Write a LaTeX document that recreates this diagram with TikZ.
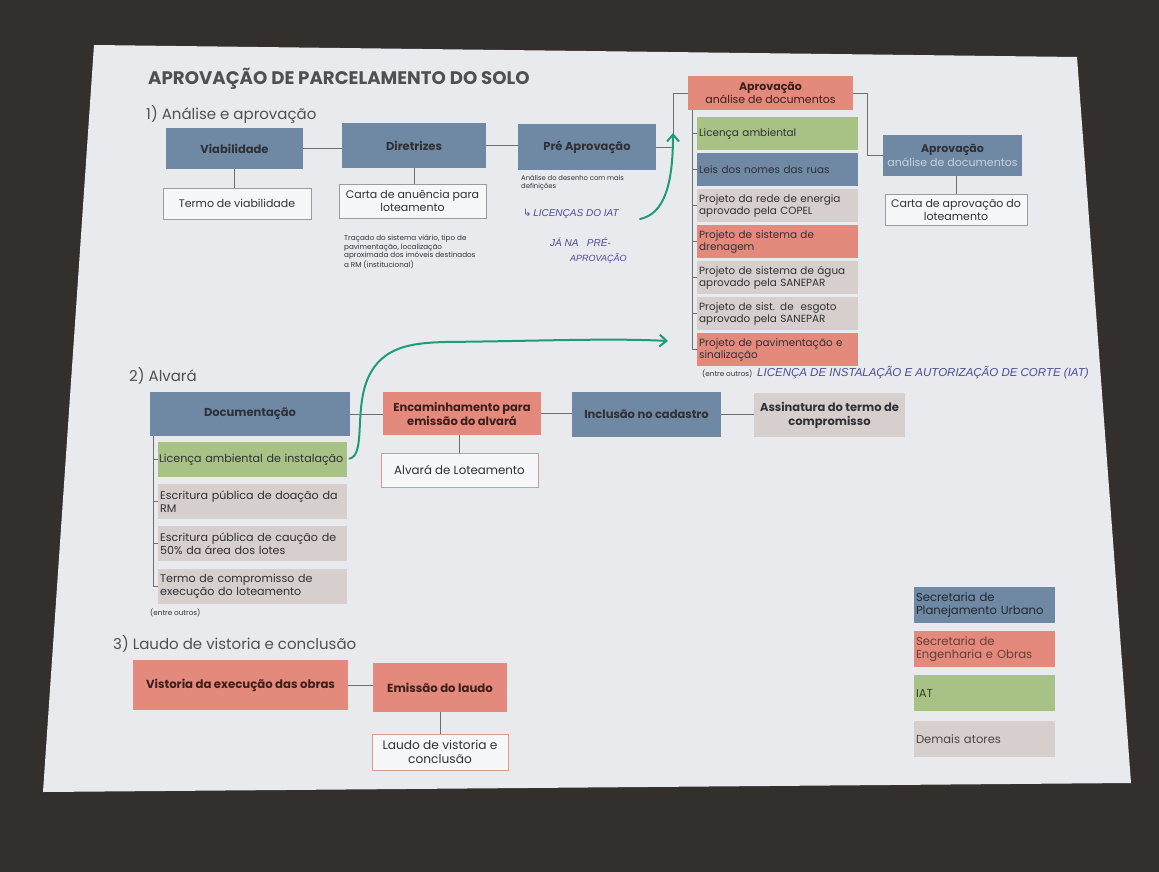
\documentclass[tikz,border=0pt]{standalone}
\usepackage{fontspec}
\setmainfont{Poppins}
\newfontfamily\handfont{Liberation Sans}
\newfontfamily\symfont{DejaVu Sans}
\usetikzlibrary{arrows.meta,calc}

\definecolor{stone}{HTML}{322F2C}
\definecolor{paper}{HTML}{E9EAEE}
\definecolor{planblue}{HTML}{6F88A3}
\definecolor{engred}{HTML}{E38A7D}
\definecolor{iatgreen}{HTML}{A7C284}
\definecolor{othergrey}{HTML}{D7CECE}
\definecolor{ink}{HTML}{2F3136}
\definecolor{redink}{HTML}{3E1E1A}
\definecolor{paleblue}{HTML}{C8D1DD}
\definecolor{wire}{HTML}{6E6E6E}
\definecolor{pen}{HTML}{474C97}
\definecolor{marker}{HTML}{1E9C78}
\definecolor{greyedge}{HTML}{9C9C9C}
\definecolor{redge}{HTML}{D49C91}

\newcommand{\fsz}[2]{\fontsize{#1}{#2}\selectfont}

\begin{document}
\begin{tikzpicture}[x=1pt,y=-1pt,
  stage/.style={rectangle, inner sep=2pt, align=center, text=ink,
    font=\fsz{11.5}{14}\bfseries},
  item/.style={rectangle, inner xsep=2pt, inner ysep=1pt, align=left,
    text=ink, text width=#1},
  item/.default=150pt,
  upper/.style={font=\fsz{10.4}{12}},
  lower/.style={font=\fsz{11.1}{13}},
  result/.style={rectangle, draw=greyedge, line width=0.7pt, fill=white!60!paper,
    align=center, text=ink, font=\fsz{11}{13}},
  link/.style={draw=wire, line width=0.8pt},
  note/.style={align=left, text=ink, font=\fsz{7.2}{8.4}, inner sep=0pt},
  heading/.style={anchor=base west, inner sep=0pt, text=ink!85!white},
  hand/.style={anchor=west, inner sep=0pt, text=pen,
    font=\handfont\itshape\fsz{10}{11}},
  greenpen/.style={draw=marker, line width=2pt, line cap=round},
  legend/.style={rectangle, minimum width=141pt, minimum height=36pt,
    inner xsep=2pt, align=left, text width=137pt, font=\fsz{11.6}{13.5}}
]
% table and sheet
\fill[stone] (0,0) rectangle (1159,872);
\useasboundingbox (0,0) rectangle (1159,872);
\fill[paper] (94,45) -- (1077,57) -- (1131,783) -- (43,792) -- cycle;

% titles
\node[heading, font=\fsz{18.2}{22}\bfseries] (title) at (148,85)
  {APROVAÇÃO DE PARCELAMENTO DO SOLO};
\node[heading, font=\fsz{15}{18}] (h1) at (146,120) {1) Análise e aprovação};
\node[heading, font=\fsz{15}{18}] (h2) at (129,381) {2) Alvará};
\node[heading, font=\fsz{15}{18}] (h3) at (113,649) {3) Laudo de vistoria e conclusão};

% ---------- 1) Análise e aprovação
\node[stage, fill=planblue, minimum width=137pt, minimum height=41pt] (viab) at (234.5,148.5) {Viabilidade};
\node[stage, fill=planblue, minimum width=144pt, minimum height=45pt] (dir) at (414,145.5) {Diretrizes};
\node[stage, fill=planblue, minimum width=138pt, minimum height=46pt] (pre) at (587,147) {Pré Aprovação};

\node[result, minimum width=148pt, minimum height=31pt] (termo) at (237,203.5) {Termo de viabilidade};
\node[result, minimum width=147pt, minimum height=34pt] (carta) at (412.5,201) {Carta de anuência para\\loteamento};

\node[note, anchor=north west] (tracado) at (344,235)
  {Traçado do sistema viário, tipo de\\pavimentação, localização\\aproximada dos imóveis destinados\\a RM (institucional)};
\node[note, anchor=north west, font=\fsz{6.8}{8}] (desenho) at (521,175)
  {Análise do desenho com mais\\definições};

\draw[link] (viab.east) -- (viab.east -| dir.west);
\draw[link] (dir.east) -- (dir.east -| pre.west);
\draw[link] (viab.south) -- (viab.south |- termo.north);
\draw[link] (dir.south) -- (dir.south |- carta.north);

% document approval
\node[stage, fill=engred, text=redink, font=\fsz{11}{13.5}, minimum width=165pt, minimum height=34pt] (aprov) at (770.5,93)
  {\textbf{Aprovação}\\análise de documentos};
\draw[link] (pre.east) -- ++(17,0) |- (aprov.west);

\node[item=157pt, upper, fill=iatgreen, minimum width=161pt, minimum height=33pt, anchor=north west] (d1) at (697,117) {Licença ambiental};
\node[item=157pt, upper, fill=planblue, minimum width=161pt, minimum height=33pt, anchor=north west] (d2) at (697,153) {Leis dos nomes das ruas};
\node[item=157pt, upper, fill=othergrey, minimum width=161pt, minimum height=33pt, anchor=north west] (d3) at (697,189) {Projeto da rede de energia\\aprovado pela COPEL};
\node[item=157pt, upper, fill=engred, minimum width=161pt, minimum height=33pt, anchor=north west] (d4) at (697,225) {Projeto de sistema de\\drenagem};
\node[item=157pt, upper, fill=othergrey, minimum width=161pt, minimum height=33pt, anchor=north west] (d5) at (697,261) {Projeto de sistema de água\\aprovado pela SANEPAR};
\node[item=157pt, upper, fill=othergrey, minimum width=161pt, minimum height=33pt, anchor=north west] (d6) at (697,297) {Projeto de sist. de \ esgoto\\aprovado pela SANEPAR};
\node[item=157pt, upper, fill=engred, minimum width=161pt, minimum height=33pt, anchor=north west] (d7) at (697,333) {Projeto de pavimentação e\\sinalização};
\coordinate (spine1) at ($(aprov.south west)+(5,0)$);
\foreach \k in {1,...,7} {
  \draw[link] (spine1) |- (d\k.west);
}
\node[note, anchor=west] (outros1) at (702,374) {(entre outros)};

\node[stage, fill=planblue, font=\fsz{11}{13.5}, minimum width=139pt, minimum height=41pt] (aprov2) at (952.5,155.5)
  {\textbf{Aprovação}\\\textcolor{paleblue}{análise de documentos}};
\draw[link] (aprov.east) -- ++(14,0) |- (aprov2.west);
\node[result, minimum width=142pt, minimum height=31pt] (cartaap) at (956,209.5) {Carta de aprovação do\\loteamento};
\draw[link] (aprov2.south -| cartaap.north) -- (cartaap.north);

% ---------- 2) Alvará
\node[stage, fill=planblue, minimum width=200pt, minimum height=44pt] (doc) at (250,414) {Documentação};
\node[stage, fill=engred, text=redink, minimum width=158pt, minimum height=43pt] (enc) at (462,413.5) {Encaminhamento para\\emissão do alvará};
\node[stage, fill=planblue, minimum width=149pt, minimum height=45pt] (incl) at (646.5,414.5) {Inclusão no cadastro};
\node[stage, fill=othergrey, minimum width=151pt, minimum height=44pt] (assin) at (829.5,415) {Assinatura do termo de\\compromisso};
\draw[link] (doc.east) -- (doc.east -| enc.west);
\draw[link] (enc.east) -- (enc.east -| incl.west);
\draw[link] (incl.east) -- (incl.east -| assin.west);

\node[result, draw=redge, font=\fsz{11.8}{14}, minimum width=157pt, minimum height=34pt] (alv) at (459.5,470) {Alvará de Loteamento};
\draw[link] (enc.south -| alv.north) -- (alv.north);

\node[item=187pt, lower, inner xsep=1pt, fill=iatgreen, minimum width=189pt, minimum height=35pt, anchor=north west] (a1) at (158,442) {\mbox{Licença ambiental de instalação}};
\node[item=185pt, lower, fill=othergrey, minimum width=189pt, minimum height=35pt, anchor=north west] (a2) at (158,484) {Escritura pública de doação da\\RM};
\node[item=185pt, lower, fill=othergrey, minimum width=189pt, minimum height=35pt, anchor=north west] (a3) at (158,526) {Escritura pública de caução de\\50\% da área dos lotes};
\node[item=185pt, lower, fill=othergrey, minimum width=189pt, minimum height=35pt, anchor=north west] (a4) at (158,569) {Termo de compromisso de\\execução do loteamento};
\coordinate (spine2) at ($(doc.south west)+(4,0)$);
\foreach \k in {1,...,4} {
  \draw[link] (spine2) |- (a\k.west);
}
\node[note, anchor=west] (outros2) at (150,613) {(entre outros)};

% ---------- 3) Laudo de vistoria e conclusão
\node[stage, fill=engred, text=redink, font=\fsz{11.7}{14}\bfseries, minimum width=215pt, minimum height=50pt] (vist) at (240.5,685) {Vistoria da execução das obras};
\node[stage, fill=engred, text=redink, font=\fsz{11.7}{14}\bfseries, minimum width=134pt, minimum height=49pt] (emis) at (440,687.5) {Emissão do laudo};
\draw[link] (vist.east) -- (vist.east -| emis.west);
\node[result, draw=redge, font=\fsz{12.2}{14.5}, minimum width=136pt, minimum height=36pt] (laudo) at (440,752) {Laudo de vistoria e\\conclusão};
\draw[link] (emis.south) -- (laudo.north);

% ---------- legend
\node[legend, fill=planblue, text=planblue!30!black] (lg1) at (984.5,605) {Secretaria de\\Planejamento Urbano};
\node[legend, fill=engred, text=engred!45!black] (lg2) at (984.5,649) {Secretaria de\\Engenharia e Obras};
\node[legend, fill=iatgreen, text=iatgreen!35!black] (lg3) at (984.5,693) {IAT};
\node[legend, fill=othergrey, text=othergrey!35!black] (lg4) at (984.5,739) {Demais atores};

% ---------- handwritten remarks
\node[hand] (hw1) at (523,214) {{\symfont\upshape ↳}\,LICENÇAS DO IAT};
\node[hand] (hw2) at (550,242) {JÁ NA \ \ PRÉ-};
\node[hand, font=\handfont\itshape\fsz{9}{10}] (hw3) at (570,258) {APROVAÇÃO};
\node[hand, font=\handfont\itshape\fsz{11.5}{13}] (hw4) at (757,373)
  {LICENÇA DE INSTALAÇÃO E AUTORIZAÇÃO DE CORTE (IAT)};

\coordinate (g1a) at (640,219);
\coordinate (g1b) at (673,133);
\draw[greenpen, -{Straight Barb[length=7pt,width=12pt]}]
  (g1a) .. controls (664,214) and (673,185) .. (g1b);
\coordinate (g2b) at (668,341);
\draw[greenpen, -{Straight Barb[length=7pt,width=12pt]}]
  ($(a1.east)+(2,-1)$) .. controls (366,455) and (354,410) .. (368,378)
  .. controls (382,347) and (410,343) .. (445,342)
  .. controls (540,341) and (610,338) .. (g2b);
\end{tikzpicture}
\end{document}
